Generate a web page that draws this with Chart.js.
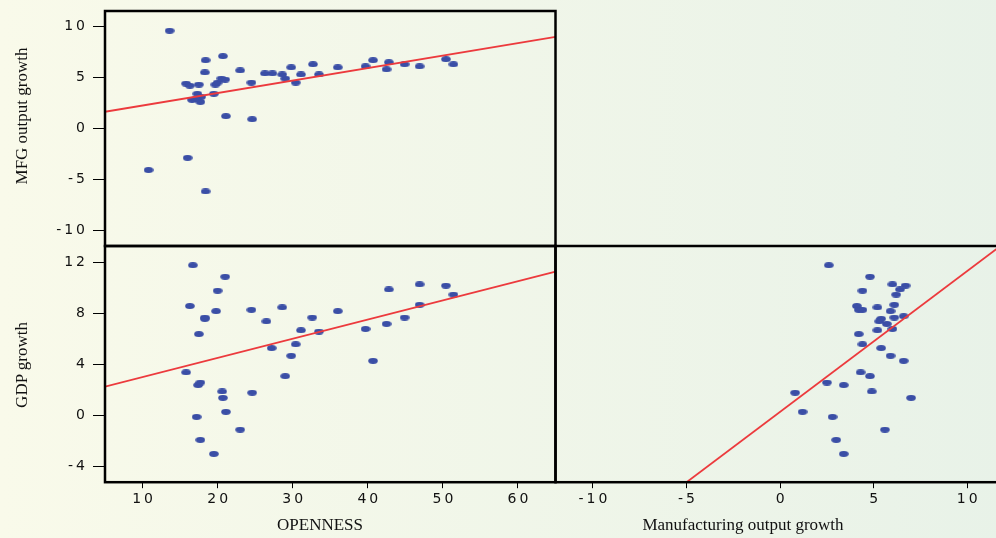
<!DOCTYPE html>
<html>
<head>
<meta charset="utf-8">
<script src="https://cdn.jsdelivr.net/npm/chart.js@4.4.0/dist/chart.umd.min.js"></script>
<style>
html,body{margin:0;padding:0;overflow:hidden;width:996px;height:538px}
#wrap{position:relative;width:1010px;height:538px;background:linear-gradient(to right,#f9faea,#e8f2e8)}
canvas{position:absolute;left:0;top:0}
.t{position:absolute;font-family:"Liberation Serif","Times New Roman",serif;font-size:17px;color:#111;white-space:nowrap;transform:translate(-50%,-50%)}
.r{transform:translate(-50%,-50%) rotate(-90deg)}
</style>
</head>
<body>
<div id="wrap">
  <canvas id="cTop" width="1010" height="538"></canvas>
  <canvas id="cBot" width="1010" height="538"></canvas>
  <canvas id="cRight" width="1010" height="538"></canvas>
  <div class="t r" style="left:22px;top:116px">MFG output growth</div>
  <div class="t r" style="left:22px;top:365px">GDP growth</div>
  <div class="t" style="left:320px;top:525px">OPENNESS</div>
  <div class="t" style="left:743px;top:525px">Manufacturing output growth</div>
</div>
<script>
// ---- Data ----
// top-left: MFG output growth vs OPENNESS
const openTop = [13.6,10.8,16.0,18.4,18.4,20.7,18.3,15.8,16.3,17.5,17.3,17.8,16.6,17.7,17.1,19.5,19.7,20.0,20.5,21.0,21.1,24.6,23.0,24.5,26.3,27.3,28.6,29.0,29.8,30.4,31.1,32.7,33.5,36.0,39.7,40.7,42.5,42.8,44.9,46.9,50.4,51.4];
const mfgTop  = [9.6,-4.1,-2.9,-6.2,6.7,7.1,5.5,4.4,4.2,4.3,3.4,3.1,2.8,2.6,2.9,3.4,4.3,4.5,4.9,4.8,1.2,0.9,5.7,4.5,5.4,5.4,5.3,4.9,6.0,4.5,5.3,6.3,5.3,6.0,6.1,6.7,5.8,6.5,6.3,6.1,6.8,6.3];
// bottom-left: GDP growth vs OPENNESS
const openBot = [16.7,21.0,20.0,16.3,19.8,18.3,18.3,17.5,24.5,26.5,28.6,27.2,30.4,29.8,29.0,31.1,32.6,33.5,36.0,39.7,40.7,42.5,42.8,44.9,46.9,46.9,50.4,51.4,15.8,17.4,17.7,20.6,20.7,24.6,21.1,17.2,23.0,17.7,19.5];
const gdpBot  = [11.8,10.9,9.8,8.6,8.2,7.7,7.6,6.4,8.3,7.4,8.5,5.3,5.6,4.7,3.1,6.7,7.7,6.6,8.2,6.8,4.3,7.2,9.9,7.7,10.3,8.7,10.2,9.5,3.4,2.4,2.6,1.9,1.4,1.8,0.3,-0.1,-1.1,-1.9,-3.0];
// bottom-right: GDP growth vs manufacturing output growth
const mfgRight = [2.6,4.8,6.0,6.7,6.4,4.4,6.2,6.1,4.1,5.2,4.2,4.4,5.9,6.1,6.6,5.4,5.3,5.7,5.2,6.0,4.2,4.4,5.4,5.9,6.6,4.3,4.8,2.5,3.4,4.9,0.8,7.0,1.2,2.8,5.6,3.0,3.4];
const gdpRight = [11.8,10.9,10.3,10.2,9.9,9.8,9.5,8.7,8.6,8.5,8.3,8.3,8.2,7.7,7.8,7.6,7.4,7.2,6.7,6.8,6.4,5.6,5.3,4.7,4.3,3.4,3.1,2.6,2.4,1.9,1.8,1.4,0.3,-0.1,-1.1,-1.9,-3.0];

// fitted lines (end points)
const fitTopX = [5, 65],   fitTopY = [1.63, 8.99];
const fitBotX = [5, 65],   fitBotY = [2.27, 11.3];
const fitRightX = [-6, 12], fitRightY = [-6.33, 13.56];

// ticks
const yTicksTop = [-10, -5, 0, 5, 10];
const yTicksBot = [-4, 0, 4, 8, 12];
const xTicksLeft = [10, 20, 30, 40, 50, 60];
const xTicksRight = [-10, -5, 0, 5, 10];

// ---- Style ----
const DOT = "#3a4ea6", RED = "#ec3a3d";
const W = 1010, H = 538;
const SPACE = "3px";
const TICKFONT = {family:"'DejaVu Sans', sans-serif", size:14};

Chart.defaults.color = "#111";

// elliptic marker
const dot = document.createElement("canvas");
dot.width = 10; dot.height = 6;
(()=>{const g=dot.getContext("2d");g.fillStyle=DOT;g.beginPath();g.ellipse(5,3,4.8,3,0,0,Math.PI*2);g.fill();})();

const pts = (xs, ys) => xs.map((x,i)=>({x, y:ys[i]}));

const frame = {id:"frame", afterDraw(c){
  const a=c.chartArea, x=c.ctx;
  x.save(); x.strokeStyle="#000"; x.lineWidth=2.5;
  x.strokeRect(a.left,a.top,a.right-a.left,a.bottom-a.top);
  x.restore();
}};
const spacing = {id:"spacing",
  beforeLayout(c){c.ctx.letterSpacing=SPACE},
  beforeDraw(c){c.ctx.letterSpacing=SPACE}
};

const setTicks = arr => s => { s.ticks = arr.map(v=>({value:v})); };

function yAxis(min, max, ticks){
  return {min, max, afterBuildTicks:setTicks(ticks),
    afterFit:s=>{s.width=105; s.paddingTop=0; s.paddingBottom=0},
    grid:{drawOnChartArea:false, tickLength:12, color:"#000", lineWidth:1},
    border:{display:false}, ticks:{padding:5, autoSkip:false, font:TICKFONT}};
}
function xAxis(min, max, ticks){
  return {type:"linear", min, max, afterBuildTicks:setTicks(ticks),
    afterFit:s=>{s.height=55.8; s.paddingLeft=0; s.paddingRight=0},
    grid:{drawOnChartArea:false, tickLength:6, color:"#000", lineWidth:1},
    border:{display:false}, ticks:{padding:3, autoSkip:false, maxRotation:0, labelOffset:1.5, font:TICKFONT}};
}

function panel(id, scatter, fit, scales, padding){
  return new Chart(document.getElementById(id), {
    type:"scatter",
    data:{datasets:[
      {type:"line", data:fit, borderColor:RED, borderWidth:1.8, pointRadius:0, showLine:true, fill:false},
      {data:scatter, pointStyle:dot, pointRadius:5, backgroundColor:DOT, borderWidth:0}
    ]},
    options:{responsive:false, animation:false, events:[],
      layout:{padding},
      plugins:{legend:{display:false}, tooltip:{enabled:false}},
      scales},
    plugins:[spacing, frame]
  });
}

panel("cTop", pts(openTop, mfgTop), pts(fitTopX, fitTopY),
  {x:{type:"linear", min:5, max:65, display:false}, y:yAxis(-11.57, 11.54, yTicksTop)},
  {left:0, top:11, right:W-555.5, bottom:H-246});

panel("cBot", pts(openBot, gdpBot), pts(fitBotX, fitBotY),
  {x:xAxis(5, 65, xTicksLeft), y:yAxis(-5.22, 13.31, yTicksBot)},
  {left:0, top:246, right:W-555.5, bottom:0});

panel("cRight", pts(mfgRight, gdpRight), pts(fitRightX, fitRightY),
  {x:xAxis(-12, 12, xTicksRight), y:{min:-5.22, max:13.31, display:false}},
  {left:555.5, top:246, right:W-1004.7, bottom:0});
</script>
</body>
</html>
